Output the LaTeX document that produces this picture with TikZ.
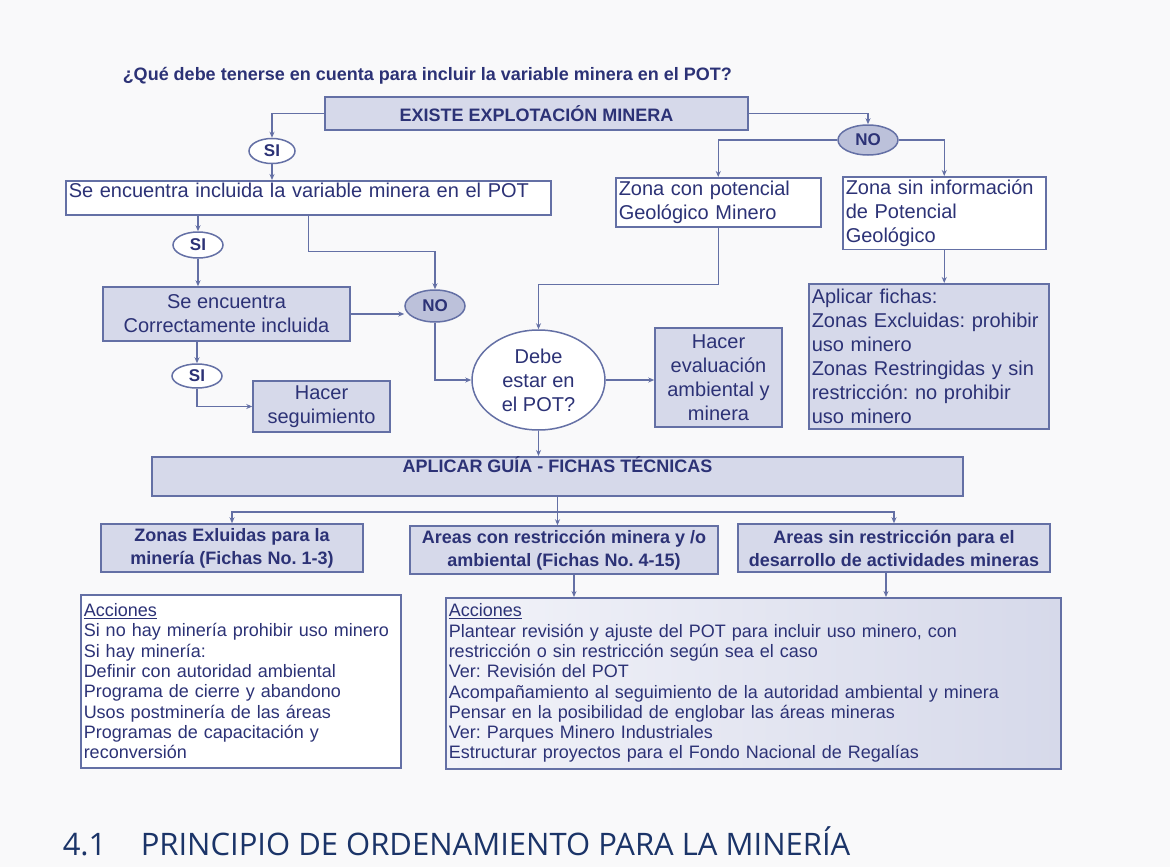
\documentclass[tikz,border=0pt]{standalone}
\usepackage{fontspec}
\setmainfont{Liberation Sans}
\newfontfamily\headfont{Open Sans}
\usetikzlibrary{shapes.geometric,arrows.meta}
\frenchspacing

\definecolor{navy}{RGB}{44,50,118}
\definecolor{lineblue}{RGB}{100,112,165}
\definecolor{boxfill}{RGB}{214,217,234}
\definecolor{nofill}{RGB}{188,193,218}
\definecolor{accleft}{RGB}{242,243,249}
\definecolor{pagebg}{RGB}{249,249,250}
\definecolor{headblue}{RGB}{27,52,104}

\begin{document}
\begin{tikzpicture}[x=1pt,y=-1pt,->,>={Stealth[length=6pt,width=5pt]},draw=lineblue,line width=1.5pt,
  plain node/.style={draw=lineblue,fill=white,text=navy,font=\fontsize{20}{24}\selectfont,inner sep=3pt},
  shade node/.style={plain node,fill=boxfill},
  bold node/.style={shade node,font=\fontsize{18}{23}\selectfont\bfseries},
  answer node/.style={ellipse,draw=lineblue,fill=white,text=navy,inner sep=0pt,font=\fontsize{17}{17}\selectfont\bfseries},
  list node/.style={plain node,font=\fontsize{18}{20.3}\selectfont,align=left,anchor=north west}]

  \useasboundingbox (0,0) rectangle (1170,867);
  \fill[pagebg] (0,0) rectangle (1170,867);

  \node[anchor=base west,text=navy,inner sep=0pt,font=\fontsize{18}{18}\selectfont\bfseries] (title) at (122,81)
    {¿Qué debe tenerse en cuenta para incluir la variable minera en el POT?};

  % first question
  \node[bold node,minimum width=423pt,minimum height=33pt] (existe) at (536.5,113.5) {EXISTE EXPLOTACIÓN MINERA};
  \node[answer node,minimum width=46pt,minimum height=25pt] (si1) at (272,151) {SI};
  \node[answer node,fill=nofill,minimum width=60pt,minimum height=30pt] (no1) at (868,140) {NO};

  \node[plain node,anchor=north west,text width=479pt,align=left,text height=14pt,text depth=14pt] (incl) at (65,180)
    {Se encuentra incluida la variable minera en el POT};
  \node[plain node,anchor=north west,text width=199pt,align=left,minimum height=49pt] (zcon) at (615,177)
    {Zona con potencial\\Geológico Minero};
  \node[plain node,anchor=north west,text width=197pt,align=left,minimum height=70pt] (zsin) at (842,176)
    {Zona sin información\\de Potencial\\Geológico};
  \node[shade node,anchor=north west,text width=234pt,align=left,minimum height=145pt] (fichas) at (808,283)
    {Aplicar fichas:\\Zonas Excluidas: prohibir\\uso minero\\Zonas Restringidas y sin\\restricción: no prohibir\\uso minero};

  % left branch
  \node[answer node,minimum width=50pt,minimum height=26pt] (si2) at (198,245) {SI};
  \node[shade node,minimum width=247pt,minimum height=54pt,align=center] (corr) at (226.5,314)
    {Se encuentra\\Correctamente incluida};
  \node[answer node,fill=nofill,minimum width=60pt,minimum height=32pt] (no2) at (435,306) {NO};
  \node[answer node,minimum width=50pt,minimum height=24pt] (si3) at (197,376) {SI};
  \node[shade node,minimum width=137pt,minimum height=51pt,align=center] (segui) at (321.5,406.5)
    {Hacer\\seguimiento};

  % decision
  \node[plain node,ellipse,minimum width=133pt,minimum height=100pt,inner sep=0pt,align=center] (debe) at (538.5,380)
    {Debe\\estar en\\el POT?};
  \node[shade node,minimum width=127pt,minimum height=99pt,align=center] (evalua) at (718.5,377.5)
    {Hacer\\evaluación\\ambiental y\\minera};

  % guide
  \node[bold node,anchor=north,minimum width=811pt,text height=13pt,text depth=20pt] (guia) at (557.5,456)
    {APLICAR GUÍA - FICHAS TÉCNICAS};
  \coordinate (split) at (557.5,512);
  \node[bold node,minimum width=262pt,minimum height=48pt,align=center] (excl) at (232,548)
    {Zonas Exluidas para la\\minería (Fichas No. 1-3)};
  \node[bold node,minimum width=308pt,minimum height=48pt,align=center] (restr) at (564,550)
    {Areas con restricción minera y /o\\ambiental (Fichas No. 4-15)};
  \node[bold node,minimum width=312pt,minimum height=48pt,align=center] (sinr) at (894,548)
    {Areas sin restricción para el\\desarrollo de actividades mineras};

  \node[list node,text width=314pt,minimum height=173pt] (acc1) at (80,594)
    {\underline{Acciones}\\Si no hay minería prohibir uso minero\\Si hay minería:\\Definir con autoridad ambiental\\Programa de cierre y abandono\\Usos postminería de las áreas\\Programas de capacitación y\\reconversión};
  \node[list node,left color=accleft,right color=boxfill,text width=609pt,minimum height=171pt] (acc2) at (445,597)
    {\underline{Acciones}\\Plantear revisión y ajuste del POT para incluir uso minero, con\\restricción o sin restricción según sea el caso\\Ver: Revisión del POT\\Acompañamiento al seguimiento de la autoridad ambiental y minera\\Pensar en la posibilidad de englobar las áreas mineras\\Ver: Parques Minero Industriales\\Estructurar proyectos para el Fondo Nacional de Regalías};

  % connectors
  \draw (existe.west) -| (si1.north);
  \draw (existe.east) -| (no1.north);
  \draw (si1.south) -- (si1.south |- incl.north);
  \draw (no1.west) -| (zcon.north);
  \draw (no1.east) -| (zsin.north);
  \draw (zsin.south) -- (zsin.south |- fichas.north);
  \draw (incl.south -| si2) -- (si2.north);
  \draw (incl.south) -- ++(0,36) -| (no2.north);
  \draw (si2.south) -- (si2.south |- corr.north);
  \draw (corr.east) -- (corr.east -| no2.west);
  \draw (corr.south -| si3) -- (si3.north);
  \draw (si3.south) |- (segui.west);
  \draw (no2.south) |- (debe.west);
  \draw (zcon.south) -- ++(0,57) -| (debe.north);
  \draw (debe.east) -- (debe.east -| evalua.west);
  \draw (debe.south) -- (debe.south |- guia.north);
  \draw[-] (guia.south) -- (split);
  \draw (split) -| (excl.north);
  \draw (split) -| (sinr.north);
  \draw (split) -- (split |- restr.north);
  \draw ([xshift=10pt]restr.south) -- ([xshift=10pt]restr.south |- acc2.north);
  \draw ([xshift=-8pt]sinr.south) -- ([xshift=-8pt]sinr.south |- acc2.north);

  \node[anchor=base west,text=headblue,inner sep=0pt,font=\headfont\fontsize{31}{31}\selectfont] (num) at (62,855) {4.1};
  \node[anchor=base west,text=headblue,inner sep=0pt,font=\headfont\fontsize{31}{31}\selectfont] (heading) at (140,855)
    {PRINCIPIO DE ORDENAMIENTO PARA LA MINERÍA};
\end{tikzpicture}
\end{document}
